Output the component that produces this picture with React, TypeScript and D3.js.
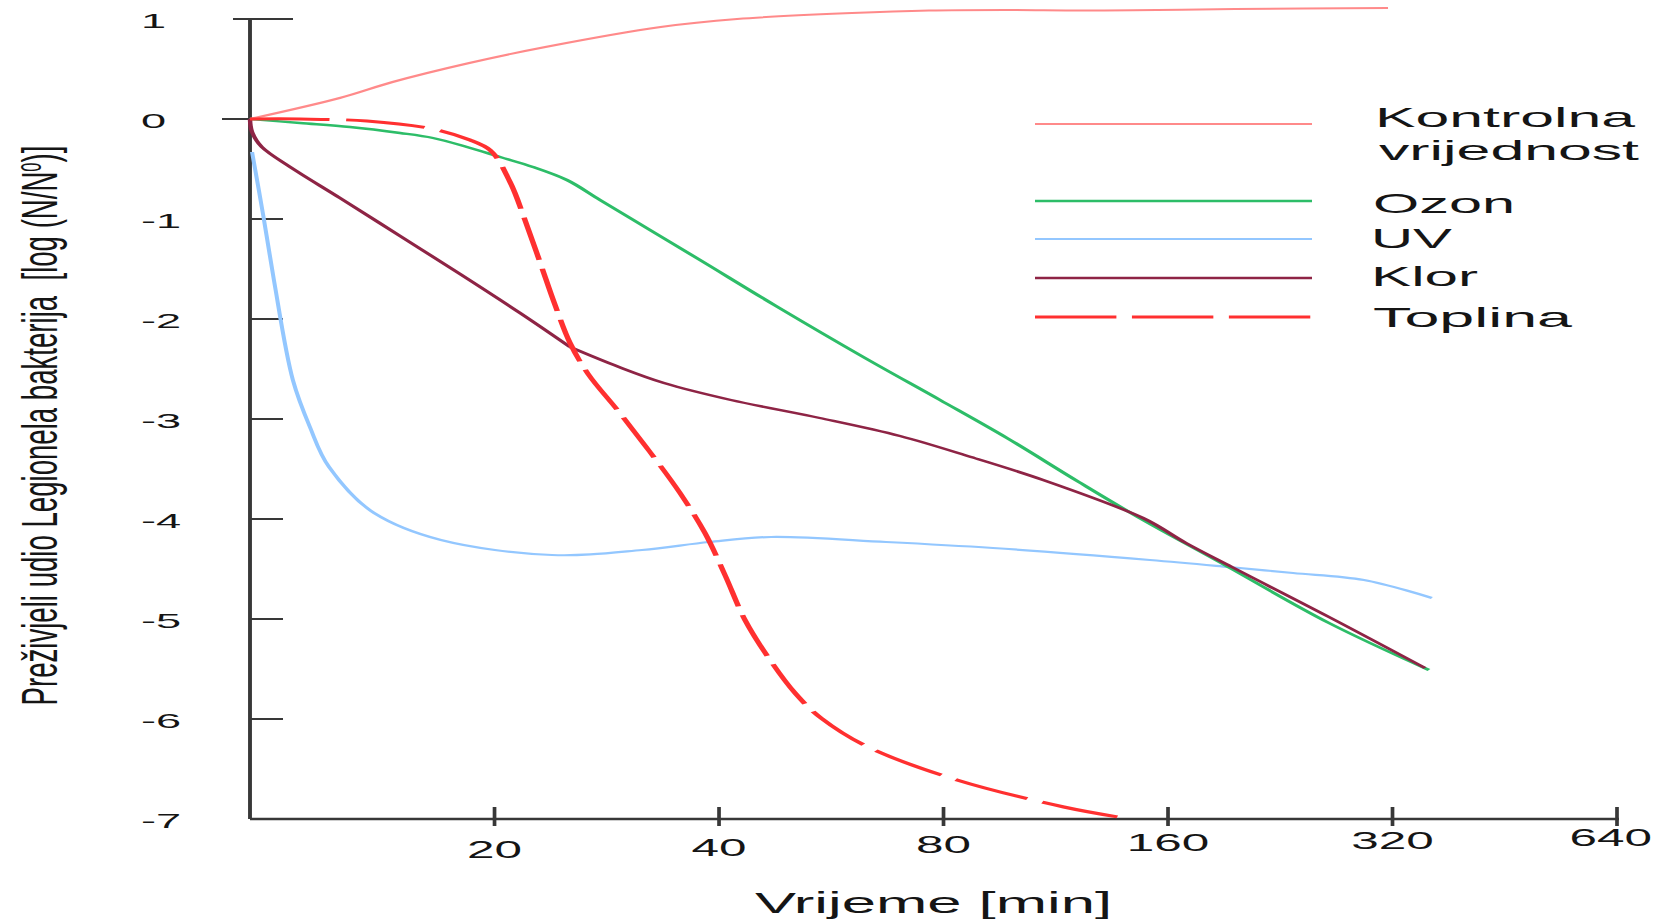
import React from "react";
import * as d3 from "d3";

// ---------- data (time in minutes, survival log10(N/N0)) ----------
const xTickValues = [20, 40, 80, 160, 320, 640];
const yTickValues = [1, 0, -1, -2, -3, -4, -5, -6, -7];
const seriesNames = ["Kontrolna vrijednost", "Ozon", "UV", "Klor", "Toplina"];

const kontrolna: [number, number][] = [
  [0, 0], [12.4, 0.21], [14.6, 0.37], [18.5, 0.56], [23.4, 0.72], [33.4, 0.92],
  [42.3, 1.0], [60.3, 1.06], [76.5, 1.085], [96.7, 1.09], [122.7, 1.085],
  [155, 1.09], [196.8, 1.1], [315.6, 1.11],
];

const ozon: [number, number][] = [
  [0, 0], [10.97, -0.04], [12.8, -0.08], [14.94, -0.14], [16.54, -0.19],
  [18.37, -0.28], [20.34, -0.38], [22.52, -0.48], [25.01, -0.61], [27.7, -0.81],
  [32.32, -1.11], [37.72, -1.41], [47.69, -1.87], [62.78, -2.39], [79.14, -2.81],
  [97.3, -3.19], [121.5, -3.63], [148.1, -4.01], [188.5, -4.44], [263, -5.04],
  [358.1, -5.51],
];

const uv: [number, number][] = [
  [9.46, -0.33], [9.79, -0.96], [10.12, -1.61], [10.73, -2.61], [11.31, -3.08],
  [12.0, -3.48], [13.79, -3.94], [16.95, -4.21], [23.88, -4.36], [31.53, -4.31],
  [38.79, -4.23], [46.96, -4.18], [66.98, -4.23], [93.2, -4.29], [151.3, -4.41],
  [193.1, -4.48], [235.4, -4.54], [293, -4.61], [361.4, -4.79],
];

// chlorine: fast phase up to the break point, then slow phase
const klorFast: [number, number][] = [
  [0, 0], [9.46, -0.13], [9.75, -0.28], [10.64, -0.48], [12.41, -0.79],
  [14.94, -1.17], [17.98, -1.55], [21.64, -1.94], [25.25, -2.28],
];
const klorSlow: [number, number][] = [
  [25.25, -2.28], [29.37, -2.48], [33.75, -2.64], [41.5, -2.81], [54.6, -2.99],
  [69.94, -3.17], [87.08, -3.38], [108.8, -3.61], [148.1, -3.99], [169.1, -4.24],
  [194.9, -4.48], [263, -4.98], [353.8, -5.49],
];

const toplina: [number, number][] = [
  [0, 0], [10.97, 0], [13.49, -0.02], [16.54, -0.1], [18.54, -0.21],
  [19.72, -0.31], [20.98, -0.63], [21.97, -1.01], [23.01, -1.43], [24.11, -1.86],
  [25.25, -2.24], [26.7, -2.55], [29.37, -2.93], [32.32, -3.33], [35.46, -3.74],
  [38.3, -4.14], [40.74, -4.56], [43.34, -5.01], [46.53, -5.38], [50.58, -5.74],
  [54.8, -5.99], [63.37, -6.28], [83.4, -6.61], [116, -6.88], [137.1, -6.98],
];

const seriesSegments = [[kontrolna], [ozon], [uv], [klorFast, klorSlow], [toplina]];

// ---------- styles / layout ----------
const W = 1657;
const H = 921;
const SX = 1.85; // horizontal stretch of the line layer
const X_ORIGIN = 9.4; // value at which the axis origin sits (t = 0 clamps here)
const PLOT_LEFT = 250;
const PLOT_RIGHT = 1617;
const AXIS_RIGHT = 1619;
const PLOT_TOP = 19;
const PLOT_BOTTOM = 819;
const FONT = "'Liberation Sans', Arial, Helvetica, sans-serif";
const AXIS_COLOR = "#383838";
const TEXT_COLOR = "#151515";
const TEXT_STRETCH = 2.15;

const seriesColors = ["#ff8a8a", "#2dbd68", "#93c7ff", "#8e2445", "#ff3030"];
const seriesWidths = [2, 2.4, 2.2, 2.4, 3];
const seriesDash = [null, null, null, null, "43 9"];
const drawOrder = [0, 2, 1, 3, 4];

const legendLineX = [1035, 1312];
const legendRowY = [124, 201, 239, 278, 317];
const legendLabelX = [1375, 1373, 1371, 1371, 1373];
const legendLabelBase = [127, 213, 248, 286, 327];
const legendLabelWidth = [260, 142, 81, 107, 199];

export default function App() {
  const x = d3
    .scaleLog()
    .domain([X_ORIGIN, 640])
    .range([PLOT_LEFT / SX, PLOT_RIGHT / SX])
    .clamp(true);
  const y = d3.scaleLinear().domain([1, -7]).range([PLOT_TOP, PLOT_BOTTOM]);

  const line = d3
    .line<[number, number]>()
    .x((d) => x(d[0]))
    .y((d) => y(d[1]))
    .curve(d3.curveCatmullRom.alpha(0.5));

  const tickLeft = (v: number) => (v === 1 ? 17 : v === 0 ? 28 : 0);
  const tickRight = (v: number) => (v === 1 ? 43 : 33);

  const xLabelSize = 23;
  const yLabelSize = 21;

  return (
    <svg
      width={W}
      height={H}
      viewBox={`0 0 ${W} ${H}`}
      style={{ position: "absolute", left: 0, top: 0, background: "#fff" }}
    >
      <rect x={0} y={0} width={W} height={H} fill="#fff" />
      {/* line layer, stretched horizontally */}
      <g transform={`scale(${SX},1)`}>
        {/* axes */}
        <line
          x1={PLOT_LEFT / SX}
          x2={PLOT_LEFT / SX}
          y1={y(1)}
          y2={y(-7)}
          stroke={AXIS_COLOR}
          strokeWidth={2.1}
        />
        <line
          x1={PLOT_LEFT / SX}
          x2={AXIS_RIGHT / SX}
          y1={y(-7)}
          y2={y(-7)}
          stroke={AXIS_COLOR}
          strokeWidth={2.4}
        />
        {yTickValues
          .filter((v) => v !== -7)
          .map((v) => (
            <line
              key={`yt${v}`}
              x1={(PLOT_LEFT - tickLeft(v)) / SX}
              x2={(PLOT_LEFT + tickRight(v)) / SX}
              y1={y(v)}
              y2={y(v)}
              stroke={AXIS_COLOR}
              strokeWidth={2}
            />
          ))}
        {xTickValues.map((v) => (
          <line
            key={`xt${v}`}
            x1={x(v)}
            x2={x(v)}
            y1={y(-7) - 12}
            y2={y(-7) + 7}
            stroke={AXIS_COLOR}
            strokeWidth={2}
          />
        ))}
        {/* series */}
        {drawOrder.map((i) => (
          <path
            key={seriesNames[i]}
            d={seriesSegments[i].map((seg) => line(seg) || "").join("")}
            fill="none"
            stroke={seriesColors[i]}
            strokeWidth={seriesWidths[i]}
            strokeDasharray={seriesDash[i] || undefined}
            strokeLinejoin="round"
          />
        ))}
        {/* legend lines */}
        {seriesNames.map((n, i) => (
          <line
            key={`lg${n}`}
            x1={legendLineX[0] / SX}
            x2={legendLineX[1] / SX}
            y1={legendRowY[i]}
            y2={legendRowY[i]}
            stroke={seriesColors[i]}
            strokeWidth={seriesWidths[i]}
            strokeDasharray={seriesDash[i] ? "44 8.4" : undefined}
          />
        ))}
      </g>

      {/* y tick labels */}
      {yTickValues.map((v) => (
        <text
          key={`yl${v}`}
          transform={`translate(141,${y(v) + 8.5}) scale(${TEXT_STRETCH},1)`}
          fontFamily={FONT}
          fontSize={yLabelSize}
          fill={TEXT_COLOR}
          textAnchor="start"
        >
          {String(v)}
        </text>
      ))}

      {/* x tick labels */}
      {xTickValues.map((v) => {
        const px = x(v) * SX;
        const half = (String(v).length * 0.556 * xLabelSize * TEXT_STRETCH) / 2;
        const cx = Math.min(px, W - 5 - half);
        const base = 858 - (px - 496) * 0.0105;
        return (
          <text
            key={`xl${v}`}
            transform={`translate(${cx},${base}) scale(${TEXT_STRETCH},1)`}
            fontFamily={FONT}
            fontSize={xLabelSize}
            fill={TEXT_COLOR}
            textAnchor="middle"
          >
            {String(v)}
          </text>
        );
      })}

      {/* axis titles */}
      <text
        x={755}
        y={913}
        fontFamily={FONT}
        fontSize={30}
        fill={TEXT_COLOR}
        textLength={357}
        lengthAdjust="spacingAndGlyphs"
      >
        Vrijeme [min]
      </text>
      <text
        transform={`translate(57,425.5) rotate(-90) scale(0.552,1)`}
        fontFamily={FONT}
        fontSize={50}
        fill={TEXT_COLOR}
        textAnchor="middle"
      >
        Preživjeli udio Legionela bakterija{"\u00a0\u00a0"}[log (N/N
        <tspan fontSize={30} dy={-16}>
          0
        </tspan>
        <tspan dy={16}>)]</tspan>
      </text>

      {/* legend labels */}
      {seriesNames.map((n, i) => {
        if (i === 0) {
          const parts = n.split(" ");
          return (
            <g key={`ll${n}`}>
              <text
                x={legendLabelX[0]}
                y={legendLabelBase[0]}
                fontFamily={FONT}
                fontSize={28}
                fill={TEXT_COLOR}
                textLength={legendLabelWidth[0]}
                lengthAdjust="spacingAndGlyphs"
              >
                {parts[0]}
              </text>
              <text
                x={legendLabelX[0] + 4}
                y={legendLabelBase[0] + 33}
                fontFamily={FONT}
                fontSize={28}
                fill={TEXT_COLOR}
                textLength={legendLabelWidth[0]}
                lengthAdjust="spacingAndGlyphs"
              >
                {parts[1]}
              </text>
            </g>
          );
        }
        return (
          <text
            key={`ll${n}`}
            x={legendLabelX[i]}
            y={legendLabelBase[i]}
            fontFamily={FONT}
            fontSize={28}
            fill={TEXT_COLOR}
            textLength={legendLabelWidth[i]}
            lengthAdjust="spacingAndGlyphs"
          >
            {n}
          </text>
        );
      })}
    </svg>
  );
}
